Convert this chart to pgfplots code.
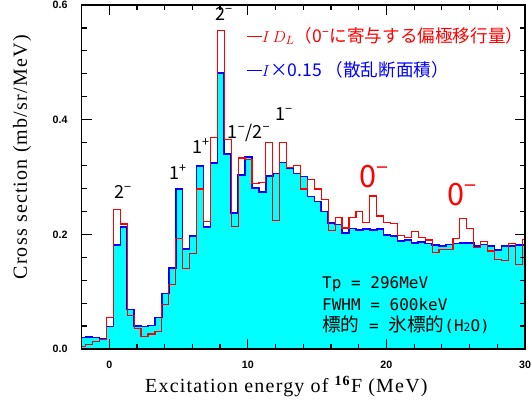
\documentclass[border=0pt]{standalone}
\usepackage{pgfplots}
\pgfplotsset{compat=1.18}
\usepackage{pgfplotstable}
\usepackage{fontspec}
\newfontfamily\jp{Noto Sans CJK JP}
\newfontfamily\mono{DejaVu Sans Mono}
\newfontfamily\tickfont{Liberation Sans}
\newfontfamily\labfont[LetterSpace=6]{Liberation Serif}
\definecolor{cy}{RGB}{0,255,255}
\definecolor{lblue}{RGB}{0,0,255}
\definecolor{lred}{RGB}{255,0,0}

% left bin edge, I D_L (red), I x 0.15 (blue)
\pgfplotstableread{
x r b
-2.2 0.004 0.020
-1.7 0.008 0.021
-1.2 0.013 0.020
-0.7 0.017 0.018
-0.2 0.055 0.039
0.3 0.244 0.181
0.8 0.218 0.213
1.3 0.058 0.069
1.8 0.036 0.040
2.3 0.022 0.039
2.8 0.026 0.041
3.3 0.030 0.055
3.8 0.077 0.097
4.3 0.113 0.141
4.8 0.193 0.279
5.3 0.141 0.174
5.8 0.167 0.197
6.3 0.279 0.319
6.8 0.222 0.213
7.3 0.369 0.324
7.8 0.555 0.481
8.3 0.366 0.340
8.8 0.213 0.237
9.3 0.333 0.303
9.8 0.330 0.335
10.3 0.288 0.281
10.8 0.291 0.274
11.3 0.360 0.302
11.8 0.224 0.306
12.3 0.360 0.325
12.8 0.316 0.315
13.3 0.320 0.306
13.8 0.279 0.301
14.3 0.295 0.266
14.8 0.279 0.257
15.3 0.261 0.240
15.8 0.206 0.220
16.3 0.230 0.217
16.8 0.211 0.202
17.3 0.230 0.210
17.8 0.240 0.208
18.3 0.221 0.209
18.8 0.267 0.208
19.3 0.232 0.209
19.8 0.220 0.199
20.3 0.219 0.197
20.8 0.198 0.188
21.3 0.195 0.190
21.8 0.205 0.185
22.3 0.195 0.187
22.8 0.190 0.184
23.3 0.168 0.181
23.8 0.174 0.180
24.3 0.174 0.182
24.8 0.193 0.184
25.3 0.228 0.185
25.8 0.210 0.185
26.3 0.177 0.180
26.8 0.187 0.182
27.3 0.171 0.180
27.8 0.156 0.173
28.3 0.154 0.180
28.8 0.184 0.180
29.3 0.147 0.181
29.8 0.191 0.181
30.3 0.191 0.181
}\data

\begin{document}
\begin{tikzpicture}
\useasboundingbox (-61.125pt,-38.25pt) rectangle (337.125pt,261.75pt);
\begin{axis}[
  at={(0,0)}, anchor=south west,
  scale only axis, width=332.625pt, height=258pt,
  axis on top,
  xmin=-2, xmax=30, ymin=0, ymax=0.6,
  xtick={0,10,20,30}, ytick={0,0.2,0.4,0.6},
  minor x tick num=4, minor y tick num=4,
  tick align=inside,
  major tick length=7.5pt, minor tick length=3.75pt,
  every tick/.style={black, line width=0.9pt},
  axis line style={line width=1.4pt},
  yticklabel style={xshift=-7pt, /pgf/number format/fixed, /pgf/number format/fixed zerofill, /pgf/number format/precision=1},
  ticklabel style={font=\tickfont\bfseries\fontsize{8}{9}\selectfont},
  xticklabel style={yshift=-5.5pt},
  /pgf/number format/assume math mode=true,
  xlabel={Excitation energy of \textsuperscript{\textbf{16}}F (MeV)},
  ylabel={Cross section (mb/sr/MeV)},
  label style={font=\labfont\fontsize{15}{18}\selectfont},
  xlabel style={at={(axis description cs:0.462,-0.11)}, anchor=center},
  ylabel style={at={(axis description cs:-0.134,0.557)}, anchor=center},
]
\addplot[const plot, fill=cy, draw=none, forget plot] table[x=x, y=b] {\data} \closedcycle;
\addplot[const plot, draw=lblue, line width=1.2pt, forget plot] table[x=x, y=b] {\data};
\addplot[const plot, draw=lred, line width=0.9pt, forget plot] table[x=x, y=r] {\data};

\node[anchor=west, inner sep=0, text=lred, font=\jp\fontsize{13.2}{15}\selectfont]
  at (axis description cs:0.373,0.910) {\rule[0.32em]{11pt}{0.7pt}$I\,D_L$（0\textsuperscript{−}に寄与する偏極移行量）};
\node[anchor=west, inner sep=0, text=lblue, font=\jp\fontsize{13.2}{15}\selectfont]
  at (axis description cs:0.373,0.811) {\rule[0.32em]{11pt}{0.7pt}$I$×0.15 （散乱断面積）};

\node[font=\jp\fontsize{13.5}{15}\selectfont] at (axis cs:0.99,0.274) {2\textsuperscript{−}};
\node[font=\jp\fontsize{13.5}{15}\selectfont] at (axis cs:4.96,0.309) {1\textsuperscript{+}};
\node[font=\jp\fontsize{13.5}{15}\selectfont] at (axis cs:6.62,0.354) {1\textsuperscript{+}};
\node[font=\jp\fontsize{13.5}{15}\selectfont] at (axis cs:8.28,0.585) {2\textsuperscript{−}};
\node[font=\jp\fontsize{13.5}{15}\selectfont] at (axis cs:10.09,0.377) {1\textsuperscript{−}/2\textsuperscript{−}};
\node[font=\jp\fontsize{13.5}{15}\selectfont] at (axis cs:12.61,0.41) {1\textsuperscript{−}};
\node[text=lred, font=\jp\fontsize{23}{26}\selectfont] at (axis cs:19.1,0.30) {0\textsuperscript{−}};
\node[text=lred, font=\jp\fontsize{23}{26}\selectfont] at (axis cs:25.45,0.269) {0\textsuperscript{−}};

\node[anchor=north west, inner sep=0, align=left, font=\mono\fontsize{12}{16}\selectfont]
  at (axis cs:15.35,0.126) {Tp = 296MeV\\FWHM = 600keV\\{\jp\fontsize{14}{16}\selectfont 標的} = {\jp\fontsize{14}{16}\selectfont 氷標的}(H{\fontsize{8.5}{9}\selectfont 2}O)};
\end{axis}
\end{tikzpicture}
\end{document}
